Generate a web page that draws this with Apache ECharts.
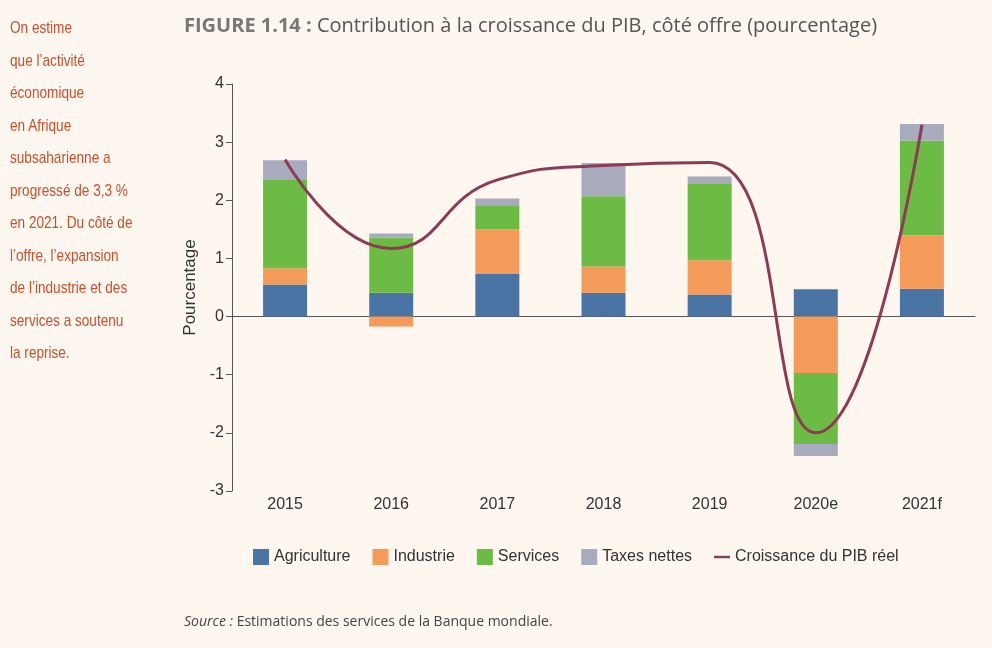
<!DOCTYPE html>
<html>
<head>
<meta charset="utf-8">
<script src="https://cdn.jsdelivr.net/npm/echarts@6/dist/echarts.min.js"></script>
<style>
body{margin:0;background:#fdf7f0;font-family:"Liberation Sans",sans-serif;}
#side{position:absolute;left:10px;top:12px;width:180px;color:#c8502e;font-size:17px;line-height:32.5px;transform:scaleX(0.8);transform-origin:0 0;white-space:nowrap;}
#title{position:absolute;left:184px;top:11px;color:#555;font-family:"Open Sans",sans-serif;font-size:20px;}
#title b{color:#777;}
#src{position:absolute;left:184px;top:611px;color:#444;font-family:"Open Sans",sans-serif;font-size:14px;}
#chart{position:absolute;left:0;top:0;width:992px;height:648px;}
</style>
</head>
<body>
<div id="chart"></div>
<div id="side">On estime<br>que l’activité<br>économique<br>en Afrique<br>subsaharienne a<br>progressé de 3,3 %<br>en 2021. Du côté de<br>l’offre, l’expansion<br>de l’industrie et des<br>services a soutenu<br>la reprise.</div>
<div id="title"><b>FIGURE 1.14 :</b> Contribution à la croissance du PIB, côté offre (pourcentage)</div>
<div id="src"><i>Source :</i> Estimations des services de la Banque mondiale.</div>
<script>
var years = ['2015', '2016', '2017', '2018', '2019', '2020e', '2021f'];
var agriculture = [0.55, 0.41, 0.74, 0.41, 0.38, 0.47, 0.48];
var industrie = [0.28, -0.17, 0.76, 0.45, 0.59, -0.97, 0.92];
var services = [1.53, 0.95, 0.40, 1.21, 1.31, -1.22, 1.63];
var taxes = [0.33, 0.07, 0.13, 0.57, 0.13, -0.21, 0.28];
var croissance = [2.7, 1.17, 2.35, 2.6, 2.65, -2.0, 3.3];

var chart = echarts.init(document.getElementById('chart'));
var font = '"Liberation Sans", sans-serif';
function bar(name, data, color) {
	return {name: name, type: 'bar', stack: 'a', barWidth: 44, data: data, itemStyle: {color: color}};
}
chart.setOption({
	animation: false,
	textStyle: {fontFamily: font},
	grid: {left: 232, right: 17, top: 84, bottom: 157},
	legend: {
		bottom: 78, left: 248, itemGap: 22, itemWidth: 16, itemHeight: 16,
		textStyle: {fontSize: 16, color: '#333', fontFamily: font},
		data: [
			{name: 'Agriculture', icon: 'rect'}, {name: 'Industrie', icon: 'rect'},
			{name: 'Services', icon: 'rect'}, {name: 'Taxes nettes', icon: 'rect'},
			{name: 'Croissance du PIB réel', icon: 'path://M0,0L40,0L40,6L0,6Z', itemWidth: 40, itemHeight: 3}
		]
	},
	xAxis: [{
		type: 'category', data: years,
		axisLine: {onZero: true, lineStyle: {color: '#555'}},
		axisTick: {show: false},
		axisLabel: {show: false}
	}, {
		type: 'category', data: years, position: 'bottom',
		axisLine: {show: false},
		axisTick: {show: false},
		axisLabel: {fontSize: 16, color: '#333', margin: 6}
	}],
	yAxis: {
		type: 'value', min: -3, max: 4, interval: 1,
		name: 'Pourcentage', nameLocation: 'middle', nameGap: 28,
		nameTextStyle: {fontSize: 17, color: '#333', fontFamily: font},
		axisLine: {show: true, lineStyle: {color: '#555'}},
		axisTick: {show: true, length: 6},
		splitLine: {show: false},
		axisLabel: {fontSize: 16, color: '#333'}
	},
	series: [
		bar('Agriculture', agriculture, '#4a74a3'),
		bar('Industrie', industrie, '#f59b5a'),
		bar('Services', services, '#6cbb45'),
		bar('Taxes nettes', taxes, '#a8aabd'),
		{name: 'Croissance du PIB réel', type: 'line', smooth: 0.5, data: croissance,
			symbol: 'none', lineStyle: {color: '#8c3a55', width: 3}, itemStyle: {color: '#8c3a55'}}
	]
});
</script>
</body>
</html>
